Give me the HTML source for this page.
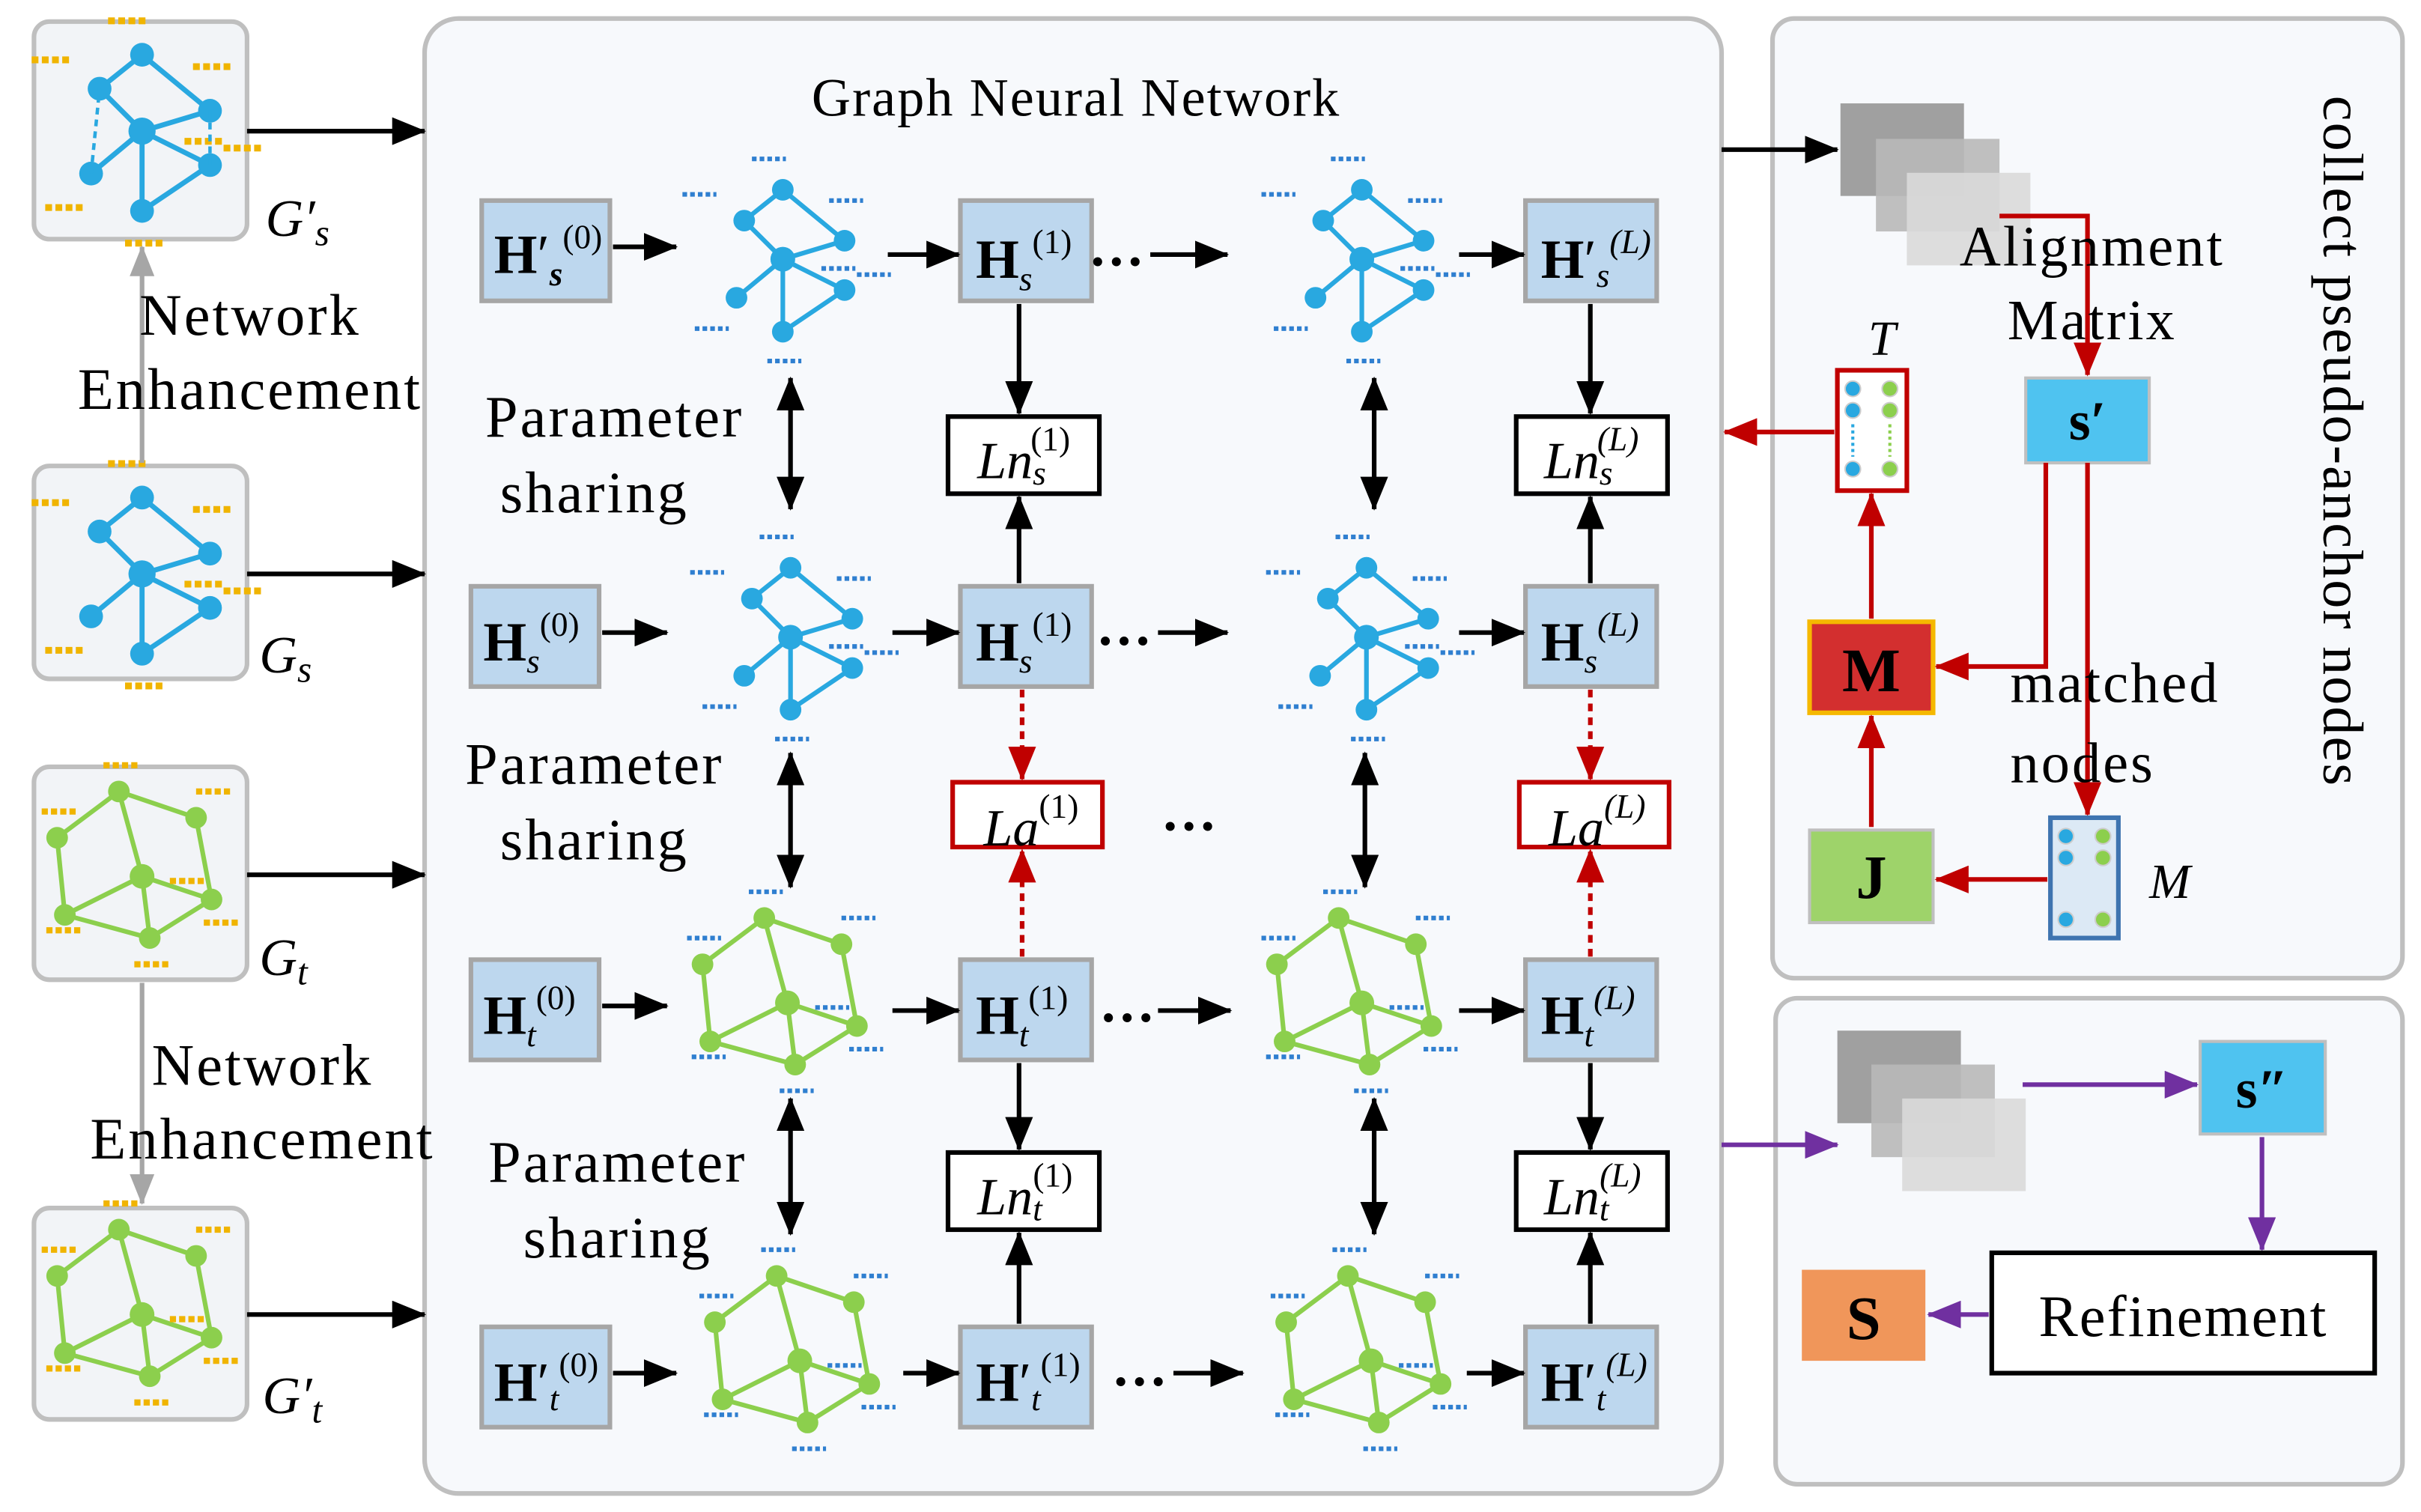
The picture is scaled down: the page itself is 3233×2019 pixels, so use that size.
<!DOCTYPE html>
<html><head><meta charset="utf-8"><style>
html,body{margin:0;padding:0;background:#fff;}
svg{display:block;}
text{font-family:"Liberation Serif",serif;}
</style></head><body>
<svg width="3233" height="2019" viewBox="0 0 1568 980" preserveAspectRatio="none" xmlns="http://www.w3.org/2000/svg">
<defs>
<marker id="ak2" markerWidth="22" markerHeight="18" refX="21" refY="9" orient="auto-start-reverse" markerUnits="userSpaceOnUse" viewBox="0 0 22 18"><path d="M0,0 L22,9 L0,18 z" fill="#000"/></marker>
<marker id="ar" markerWidth="22" markerHeight="18" refX="21" refY="9" orient="auto" markerUnits="userSpaceOnUse" viewBox="0 0 22 18"><path d="M0,0 L22,9 L0,18 z" fill="#c00000"/></marker>
<marker id="ap" markerWidth="22" markerHeight="18" refX="21" refY="9" orient="auto" markerUnits="userSpaceOnUse" viewBox="0 0 22 18"><path d="M0,0 L22,9 L0,18 z" fill="#7030a0"/></marker>
<marker id="ag" markerWidth="20" markerHeight="16" refX="19" refY="8" orient="auto" markerUnits="userSpaceOnUse" viewBox="0 0 20 16"><path d="M0,0 L20,8 L0,16 z" fill="#a6a6a6"/></marker>
<g id="bgE">
 <g stroke="#29a8e0" stroke-width="3" fill="none">
 <path d="M0,-45 L-25,-25 L0,0 L40,-12 Z M-25,-25 L0,0 L-30,25 M0,0 L0,47 L40,20 L0,0"/>
 </g>
 <g fill="#29a8e0"><circle cx="0" cy="-45" r="7"/><circle cx="-25" cy="-25" r="7"/><circle cx="0" cy="0" r="8"/><circle cx="40" cy="-12" r="7"/><circle cx="-30" cy="25" r="7"/><circle cx="0" cy="47" r="7"/><circle cx="40" cy="20" r="7"/></g>
</g>
<g id="ggE">
 <g stroke="#8ccf4d" stroke-width="3" fill="none">
 <path d="M-15,-55 L35,-38 L45,15 L5,40 L-50,25 L-55,-25 Z M-15,-55 L0,0 L45,15 M0,0 L-50,25 M0,0 L5,40"/>
 </g>
 <g fill="#8ccf4d"><circle cx="-15" cy="-55" r="7"/><circle cx="35" cy="-38" r="7"/><circle cx="45" cy="15" r="7"/><circle cx="5" cy="40" r="7"/><circle cx="-50" cy="25" r="7"/><circle cx="-55" cy="-25" r="7"/><circle cx="0" cy="0" r="8"/></g>
</g>
<path id="bd" d="M-20,-65h22M-65,-42h22M30,-38h22M25,6h22M48,10h22M-57,45h22M-10,66h22"/>
<path id="gd" d="M-25,-72h22M-65,-42h22M35,-55h22M18,3h22M40,30h22M-62,35h22M-5,57h22"/>
<g id="bg"><use href="#bgE"/><g stroke="#2f7fd0" stroke-width="3" stroke-dasharray="3,2"><use href="#bd"/></g></g>
<g id="gg"><use href="#ggE"/><g stroke="#2f7fd0" stroke-width="3" stroke-dasharray="3,2"><use href="#gd"/></g></g>
<g id="bgL"><use href="#bgE"/><g stroke="#f0b400" stroke-width="4" stroke-dasharray="4,2"><use href="#bd"/></g></g>
<g id="ggL"><use href="#ggE"/><g stroke="#f0b400" stroke-width="4" stroke-dasharray="4,2"><use href="#gd"/></g></g>
</defs>
<rect width="1568" height="980" fill="#fff"/>

<rect x="275" y="12" width="840" height="956" rx="22" fill="#f7f9fc" stroke="#bfbfbf" stroke-width="3"/>
<rect x="1148" y="12" width="408" height="622" rx="14" fill="#f7f9fc" stroke="#bfbfbf" stroke-width="3"/>
<rect x="1150" y="647" width="406" height="315" rx="14" fill="#f7f9fc" stroke="#bfbfbf" stroke-width="3"/>

<g fill="#f2f4f7" stroke="#bfbfbf" stroke-width="3">
<rect x="22" y="14" width="138" height="141" rx="10"/>
<rect x="22" y="302" width="138" height="138" rx="10"/>
<rect x="22" y="497" width="138" height="138" rx="10"/>
<rect x="22" y="783" width="138" height="137" rx="10"/>
</g>
<g transform="translate(92,85) scale(1.1)"><use href="#bgL"/><path d="M-30,25 L-25,-25 M40,-12 L40,20" stroke="#29a8e0" stroke-width="2" stroke-dasharray="4,3"/></g>
<g transform="translate(92,372) scale(1.1)"><use href="#bgL"/></g>
<g transform="translate(92,568) scale(1.0)"><use href="#ggL"/></g>
<g transform="translate(92,852) scale(1.0)"><use href="#ggL"/></g>

<g font-size="34" font-style="italic">
<text x="172" y="153">G′<tspan font-size="24" dy="6">s</tspan></text>
<text x="168" y="436">G<tspan font-size="24" dy="6">s</tspan></text>
<text x="168" y="632">G<tspan font-size="24" dy="6">t</tspan></text>
<text x="170" y="916">G′<tspan font-size="24" dy="6">t</tspan></text>
</g>
<line x1="92" y1="300" x2="92" y2="160" stroke="#a6a6a6" stroke-width="3" marker-end="url(#ag)"/>
<line x1="92" y1="637" x2="92" y2="780" stroke="#a6a6a6" stroke-width="3" marker-end="url(#ag)"/>
<g font-size="38" text-anchor="middle" letter-spacing="1.5">
<text x="162" y="217">Network</text><text x="162" y="265">Enhancement</text>
<text x="170" y="703">Network</text><text x="170" y="751">Enhancement</text>
</g>
<g stroke="#000" stroke-width="3">
<line x1="160" y1="85" x2="275" y2="85" marker-end="url(#ak2)"/>
<line x1="160" y1="372" x2="275" y2="372" marker-end="url(#ak2)"/>
<line x1="160" y1="567" x2="275" y2="567" marker-end="url(#ak2)"/>
<line x1="160" y1="852" x2="275" y2="852" marker-end="url(#ak2)"/>
</g>

<text x="697" y="75" font-size="35" text-anchor="middle" letter-spacing="1">Graph Neural Network</text>

<g fill="#bdd7ee" stroke="#a6a6a6" stroke-width="3">
<rect x="312" y="130" width="83" height="65"/><rect x="622" y="130" width="85" height="65"/><rect x="988" y="130" width="85" height="65"/>
<rect x="305" y="380" width="83" height="65"/><rect x="622" y="380" width="85" height="65"/><rect x="988" y="380" width="85" height="65"/>
<rect x="305" y="622" width="83" height="65"/><rect x="622" y="622" width="85" height="65"/><rect x="988" y="622" width="85" height="65"/>
<rect x="312" y="860" width="83" height="65"/><rect x="622" y="860" width="85" height="65"/><rect x="988" y="860" width="85" height="65"/>
</g>
<g font-size="36" font-weight="bold">
<text x="320" y="177">H<tspan font-weight="normal">′</tspan><tspan font-size="22" font-style="italic" dy="8">s</tspan><tspan font-size="22" font-weight="normal" dy="-24">(0)</tspan></text>
<text x="632" y="180">H<tspan font-size="22" font-weight="normal" font-style="italic" dy="8">s</tspan><tspan font-size="22" font-weight="normal" dy="-24">(1)</tspan></text>
<text x="998" y="180">H<tspan font-weight="normal">′</tspan><tspan font-size="22" font-style="italic" font-weight="normal" dy="6">s</tspan><tspan font-size="22" font-weight="normal" font-style="italic" dy="-22">(L)</tspan></text>
<text x="313" y="428">H<tspan font-size="22" font-weight="normal" font-style="italic" dy="8">s</tspan><tspan font-size="22" font-weight="normal" dy="-24">(0)</tspan></text>
<text x="632" y="428">H<tspan font-size="22" font-weight="normal" font-style="italic" dy="8">s</tspan><tspan font-size="22" font-weight="normal" dy="-24">(1)</tspan></text>
<text x="998" y="428">H<tspan font-size="22" font-weight="normal" font-style="italic" dy="8">s</tspan><tspan font-size="22" font-weight="normal" font-style="italic" dy="-24">(L)</tspan></text>
<text x="313" y="670">H<tspan font-size="22" font-weight="normal" font-style="italic" dy="8">t</tspan><tspan font-size="22" font-weight="normal" dy="-24">(0)</tspan></text>
<text x="632" y="670">H<tspan font-size="22" font-weight="normal" font-style="italic" dy="8">t</tspan><tspan font-size="22" font-weight="normal" dy="-24">(1)</tspan></text>
<text x="998" y="670">H<tspan font-size="22" font-weight="normal" font-style="italic" dy="8">t</tspan><tspan font-size="22" font-weight="normal" font-style="italic" dy="-24">(L)</tspan></text>
<text x="320" y="908">H<tspan font-weight="normal">′</tspan><tspan font-size="22" font-style="italic" font-weight="normal" dy="6">t</tspan><tspan font-size="22" font-weight="normal" dy="-22">(0)</tspan></text>
<text x="632" y="908">H<tspan font-weight="normal">′</tspan><tspan font-size="22" font-style="italic" font-weight="normal" dy="6">t</tspan><tspan font-size="22" font-weight="normal" dy="-22">(1)</tspan></text>
<text x="998" y="908">H<tspan font-weight="normal">′</tspan><tspan font-size="22" font-style="italic" font-weight="normal" dy="6">t</tspan><tspan font-size="22" font-weight="normal" font-style="italic" dy="-22">(L)</tspan></text>
</g>

<g transform="translate(507,168)"><use href="#bg"/></g>
<g transform="translate(882,168)"><use href="#bg"/></g>
<g transform="translate(512,413)"><use href="#bg"/></g>
<g transform="translate(885,413)"><use href="#bg"/></g>
<g transform="translate(510,650)"><use href="#gg"/></g>
<g transform="translate(882,650)"><use href="#gg"/></g>
<g transform="translate(518,882)"><use href="#gg"/></g>
<g transform="translate(888,882)"><use href="#gg"/></g>

<g stroke="#000" stroke-width="3">
<line x1="397" y1="160" x2="438" y2="160" marker-end="url(#ak2)"/>
<line x1="575" y1="165" x2="621" y2="165" marker-end="url(#ak2)"/>
<line x1="745" y1="165" x2="795" y2="165" marker-end="url(#ak2)"/>
<line x1="945" y1="165" x2="987" y2="165" marker-end="url(#ak2)"/>
<line x1="390" y1="410" x2="432" y2="410" marker-end="url(#ak2)"/>
<line x1="578" y1="410" x2="621" y2="410" marker-end="url(#ak2)"/>
<line x1="750" y1="410" x2="795" y2="410" marker-end="url(#ak2)"/>
<line x1="945" y1="410" x2="987" y2="410" marker-end="url(#ak2)"/>
<line x1="390" y1="652" x2="432" y2="652" marker-end="url(#ak2)"/>
<line x1="578" y1="655" x2="621" y2="655" marker-end="url(#ak2)"/>
<line x1="750" y1="655" x2="797" y2="655" marker-end="url(#ak2)"/>
<line x1="945" y1="655" x2="987" y2="655" marker-end="url(#ak2)"/>
<line x1="397" y1="890" x2="438" y2="890" marker-end="url(#ak2)"/>
<line x1="585" y1="890" x2="621" y2="890" marker-end="url(#ak2)"/>
<line x1="760" y1="890" x2="805" y2="890" marker-end="url(#ak2)"/>
<line x1="950" y1="890" x2="987" y2="890" marker-end="url(#ak2)"/>
<line x1="660" y1="197" x2="660" y2="268" marker-end="url(#ak2)"/>
<line x1="1030" y1="197" x2="1030" y2="268" marker-end="url(#ak2)"/>
<line x1="660" y1="378" x2="660" y2="322" marker-end="url(#ak2)"/>
<line x1="1030" y1="378" x2="1030" y2="322" marker-end="url(#ak2)"/>
<line x1="660" y1="689" x2="660" y2="745" marker-end="url(#ak2)"/>
<line x1="1030" y1="689" x2="1030" y2="745" marker-end="url(#ak2)"/>
<line x1="660" y1="858" x2="660" y2="799" marker-end="url(#ak2)"/>
<line x1="1030" y1="858" x2="1030" y2="799" marker-end="url(#ak2)"/>
<line x1="512" y1="245" x2="512" y2="330" marker-start="url(#ak2)" marker-end="url(#ak2)"/>
<line x1="890" y1="245" x2="890" y2="330" marker-start="url(#ak2)" marker-end="url(#ak2)"/>
<line x1="512" y1="488" x2="512" y2="575" marker-start="url(#ak2)" marker-end="url(#ak2)"/>
<line x1="884" y1="488" x2="884" y2="575" marker-start="url(#ak2)" marker-end="url(#ak2)"/>
<line x1="512" y1="712" x2="512" y2="800" marker-start="url(#ak2)" marker-end="url(#ak2)"/>
<line x1="890" y1="712" x2="890" y2="800" marker-start="url(#ak2)" marker-end="url(#ak2)"/>
</g>
<g font-size="36" font-weight="bold"><text x="705" y="172">…</text><text x="710" y="418">…</text><text x="712" y="662">…</text><text x="720" y="898">…</text><text x="752" y="538">…</text></g>

<g font-size="38" text-anchor="middle" letter-spacing="1.5">
<text x="398" y="283">Parameter</text><text x="385" y="332">sharing</text>
<text x="385" y="508">Parameter</text><text x="385" y="557">sharing</text>
<text x="400" y="766">Parameter</text><text x="400" y="815">sharing</text>
</g>

<g fill="#fff" stroke="#000" stroke-width="3">
<rect x="614" y="270" width="98" height="50"/><rect x="982" y="270" width="98" height="50"/>
<rect x="614" y="747" width="98" height="50"/><rect x="982" y="747" width="98" height="50"/>
</g>
<g font-size="34" font-style="italic">
<text x="633" y="310">Ln<tspan font-size="22" dy="4">s</tspan><tspan font-size="22" font-style="normal" dx="-10" dy="-22">(1)</tspan></text>
<text x="1000" y="310">Ln<tspan font-size="22" dy="4">s</tspan><tspan font-size="22" dx="-10" dy="-22">(L)</tspan></text>
<text x="633" y="787">Ln<tspan font-size="22" dy="4">t</tspan><tspan font-size="22" font-style="normal" dx="-6" dy="-22">(1)</tspan></text>
<text x="1000" y="787">Ln<tspan font-size="22" dy="4">t</tspan><tspan font-size="22" dx="-6" dy="-22">(L)</tspan></text>
</g>
<g fill="#fff" stroke="#c00000" stroke-width="3">
<rect x="617" y="507" width="97" height="42"/><rect x="984" y="507" width="97" height="42"/>
</g>
<g font-size="34" font-style="italic">
<text x="637" y="548">La<tspan font-size="22" font-style="normal" dy="-18">(1)</tspan></text>
<text x="1003" y="548">La<tspan font-size="22" dy="-18">(L)</tspan></text>
</g>
<g stroke="#c00000" stroke-width="3" stroke-dasharray="5,4">
<line x1="662" y1="447" x2="662" y2="505" marker-end="url(#ar)"/>
<line x1="662" y1="620" x2="662" y2="551" marker-end="url(#ar)"/>
<line x1="1030" y1="447" x2="1030" y2="505" marker-end="url(#ar)"/>
<line x1="1030" y1="620" x2="1030" y2="551" marker-end="url(#ar)"/>
</g>

<line x1="1115" y1="97" x2="1190" y2="97" stroke="#000" stroke-width="3" marker-end="url(#ak2)"/>
<rect x="1192" y="67" width="80" height="60" fill="#a0a0a0"/>
<rect x="1215" y="90" width="80" height="60" fill="#b8b8b8" opacity="0.9"/>
<rect x="1235" y="112" width="80" height="60" fill="#d9d9d9" opacity="0.9"/>
<polyline points="1295,140 1352,140 1352,243" fill="none" stroke="#c00000" stroke-width="3" marker-end="url(#ar)"/>
<g font-size="37" text-anchor="middle" letter-spacing="1.5"><text x="1355" y="172">Alignment</text><text x="1355" y="220">Matrix</text></g>
<rect x="1312" y="245" width="80" height="55" fill="#4fc3f0" stroke="#bfbfbf" stroke-width="2"/>
<text x="1352" y="285" font-size="36" font-weight="bold" text-anchor="middle">s′</text>
<rect x="1190" y="240" width="45" height="78" fill="#fff" stroke="#c00000" stroke-width="3"/>
<g fill="#29a8e0" stroke="#ccc"><circle cx="1200" cy="252" r="5"/><circle cx="1200" cy="266" r="5"/><circle cx="1200" cy="304" r="5"/></g>
<g fill="#8ccf4d" stroke="#ccc"><circle cx="1224" cy="252" r="5"/><circle cx="1224" cy="266" r="5"/><circle cx="1224" cy="304" r="5"/></g>
<line x1="1200" y1="275" x2="1200" y2="296" stroke="#29a8e0" stroke-width="2" stroke-dasharray="2,2"/>
<line x1="1224" y1="275" x2="1224" y2="296" stroke="#8ccf4d" stroke-width="2" stroke-dasharray="2,2"/>
<text x="1210" y="230" font-size="32" font-style="italic">T</text>
<line x1="1188" y1="280" x2="1117" y2="280" stroke="#c00000" stroke-width="3" marker-end="url(#ar)"/>
<rect x="1172" y="403" width="80" height="59" fill="#d32f2f" stroke="#f5b800" stroke-width="3"/>
<text x="1212" y="448" font-size="40" font-weight="bold" text-anchor="middle">M</text>
<line x1="1212" y1="401" x2="1212" y2="320" stroke="#c00000" stroke-width="3" marker-end="url(#ar)"/>
<polyline points="1325,300 1325,432 1254,432" fill="none" stroke="#c00000" stroke-width="3" marker-end="url(#ar)"/>
<line x1="1352" y1="300" x2="1352" y2="528" stroke="#c00000" stroke-width="3" marker-end="url(#ar)"/>
<g font-size="37" letter-spacing="1.5"><text x="1302" y="455">matched</text><text x="1302" y="507">nodes</text></g>
<rect x="1172" y="538" width="80" height="60" fill="#9ed36a" stroke="#bfbfbf" stroke-width="2"/>
<text x="1212" y="582" font-size="40" font-weight="bold" text-anchor="middle">J</text>
<line x1="1212" y1="536" x2="1212" y2="464" stroke="#c00000" stroke-width="3" marker-end="url(#ar)"/>
<rect x="1328" y="530" width="44" height="78" fill="#dce9f5" stroke="#3e74b0" stroke-width="3"/>
<g fill="#29a8e0" stroke="#ccc"><circle cx="1338" cy="542" r="5"/><circle cx="1338" cy="556" r="5"/><circle cx="1338" cy="596" r="5"/></g>
<g fill="#8ccf4d" stroke="#ccc"><circle cx="1362" cy="542" r="5"/><circle cx="1362" cy="556" r="5"/><circle cx="1362" cy="596" r="5"/></g>
<line x1="1326" y1="570" x2="1254" y2="570" stroke="#c00000" stroke-width="3" marker-end="url(#ar)"/>
<text x="1392" y="582" font-size="32" font-style="italic">M</text>
<text transform="translate(1505,62) rotate(90)" font-size="37" letter-spacing="1">collect pseudo-anchor nodes</text>

<line x1="1115" y1="742" x2="1190" y2="742" stroke="#7030a0" stroke-width="3" marker-end="url(#ap)"/>
<rect x="1190" y="668" width="80" height="60" fill="#a0a0a0"/>
<rect x="1212" y="690" width="80" height="60" fill="#b8b8b8" opacity="0.9"/>
<rect x="1232" y="712" width="80" height="60" fill="#d9d9d9" opacity="0.9"/>
<line x1="1310" y1="703" x2="1423" y2="703" stroke="#7030a0" stroke-width="3" marker-end="url(#ap)"/>
<rect x="1425" y="675" width="81" height="60" fill="#4fc3f0" stroke="#bfbfbf" stroke-width="2"/>
<text x="1465" y="718" font-size="36" font-weight="bold" text-anchor="middle">s″</text>
<line x1="1465" y1="737" x2="1465" y2="810" stroke="#7030a0" stroke-width="3" marker-end="url(#ap)"/>
<rect x="1290" y="812" width="248" height="78" fill="#fff" stroke="#000" stroke-width="3"/>
<text x="1414" y="866" font-size="38" text-anchor="middle" letter-spacing="1">Refinement</text>
<rect x="1167" y="823" width="80" height="59" fill="#f0965a"/>
<text x="1207" y="868" font-size="40" font-weight="bold" text-anchor="middle">S</text>
<line x1="1288" y1="852" x2="1249" y2="852" stroke="#7030a0" stroke-width="3" marker-end="url(#ap)"/>
</svg>
</body></html>
